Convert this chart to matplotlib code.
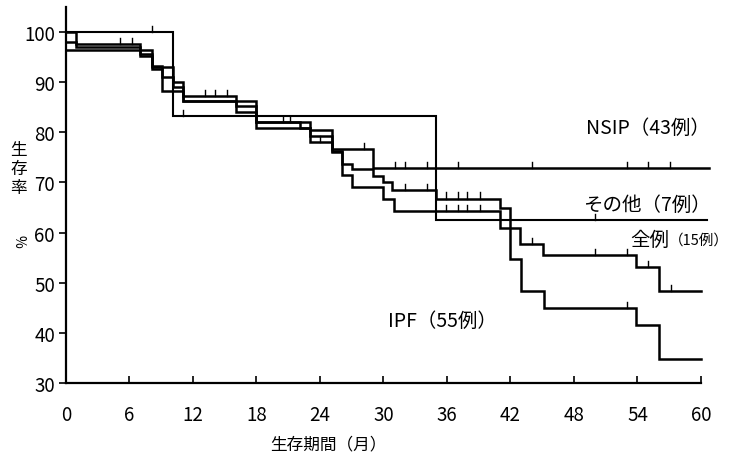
import numpy as np
import matplotlib.pyplot as plt

plt.rcParams['font.family'] = ['Liberation Sans Narrow', 'Noto Sans CJK JP', 'DejaVu Sans']
JP = ['Noto Sans CJK JP', 'DejaVu Sans']

# step curves: times where the survival changes, value after that time (last = end of line)
nsip_t = [0, 0.9, 7.0, 8.1, 10.1, 11.1, 16.1, 18.0, 23.1, 25.1, 29.0, 60.8]
nsip_s = [100, 97.7, 95.3, 93.0, 90.0, 87.3, 85.3, 82.0, 80.5, 76.7, 72.9, 72.9]
nsip_cens = [5.1, 6.2, 13.1, 14.1, 15.2, 28.2, 31.1, 32.0, 34.1, 37.0, 44.0, 53.0, 55.0, 57.1]

ipf_t = [0, 8.1, 9.1, 11.1, 18.0, 22.1, 23.1, 25.1, 26.1, 27.0, 29.0, 30.0, 30.8,
         35.0, 41.0, 42.0, 43.0, 45.2, 53.9, 56.0, 60.0]
ipf_s = [96.4, 92.6, 88.3, 86.3, 82.0, 80.8, 79.3, 76.3, 73.7, 72.7, 71.3, 70.0, 68.4,
         66.8, 65.0, 54.8, 48.3, 45.0, 41.6, 34.8, 34.8]
ipf_cens = [20.5, 21.2, 32.0, 34.1, 35.9, 37.0, 37.9, 39.1, 53.0]

all_t = [0, 0.9, 7.0, 8.1, 9.1, 10.1, 11.1, 16.1, 18.0, 23.1, 25.1, 26.1, 27.0, 30.0,
         31.0, 41.0, 42.9, 45.1, 53.9, 56.0, 60.0]
all_s = [98.1, 97.1, 95.6, 93.3, 91.0, 89.0, 86.3, 84.0, 80.8, 78.0, 76.0, 71.5, 69.0, 66.7,
         64.4, 61.0, 57.7, 55.5, 53.1, 48.4, 48.4]
all_cens = [24.0, 35.9, 37.0, 37.9, 39.1, 44.0, 50.0, 53.0, 55.0, 57.2]

oth_t = [0, 10.1, 35.0, 60.6]
oth_s = [100, 83.3, 62.5, 62.5]
oth_cens = [8.1, 11.1, 50.0]

x_ticks = list(range(0, 61, 6))
y_ticks = list(range(30, 101, 10))

fig = plt.figure(figsize=(7.34, 4.64), dpi=100)
ax = fig.add_axes([0.0899, 0.1724, 0.8651, 0.8104])


def draw_curve(t, s, cens, lw=1.8):
    ax.step(t, s, where='post', color='black', lw=lw, clip_on=False,
            solid_joinstyle='miter')
    t = np.array(t)
    s = np.array(s)
    for c in cens:
        y = s[np.searchsorted(t, c, side='right') - 1]
        ax.plot([c, c], [y, y + 1.2], color='black', lw=1.0)


draw_curve(oth_t, oth_s, oth_cens, lw=1.5)
draw_curve(nsip_t, nsip_s, nsip_cens)
draw_curve(ipf_t, ipf_s, ipf_cens)
draw_curve(all_t, all_s, all_cens)

ax.set_xlim(0, 60)
ax.set_ylim(30, 105)
ax.set_xticks(x_ticks)
ax.set_yticks(y_ticks)
ax.tick_params(axis='x', direction='in', length=5, width=1.2, labelsize=13.5, pad=15)
ax.tick_params(axis='y', direction='out', length=5, width=1.2, labelsize=13.5, pad=3)
for side in ['top', 'right']:
    ax.spines[side].set_visible(False)
for side in ['left', 'bottom']:
    ax.spines[side].set_linewidth(1.6)

fig.text(0.447, 0.042, '生存期間（月）', family=JP, fontsize=12, ha='center', va='center')
fig.text(0.025, 0.635, '生\n存\n率', family=JP, fontsize=12, ha='center', va='center',
         linespacing=1.15)
fig.text(0.025, 0.48, '%', family=JP, fontsize=10, ha='center', va='center', rotation=-90)

ax.text(49.1, 81.0, 'NSIP（43例）', family=JP, fontsize=14, ha='left', va='center')
ax.text(48.9, 65.7, 'その他（7例）', family=JP, fontsize=14, ha='left', va='center')
ax.text(53.3, 58.7, '全例', family=JP, fontsize=14, ha='left', va='center')
ax.text(57.0, 58.7, '（15例）', family=JP, fontsize=10.5, ha='left', va='center')
ax.text(30.4, 42.4, 'IPF（55例）', family=JP, fontsize=14, ha='left', va='center')

fig.savefig('out.png', dpi=100)
